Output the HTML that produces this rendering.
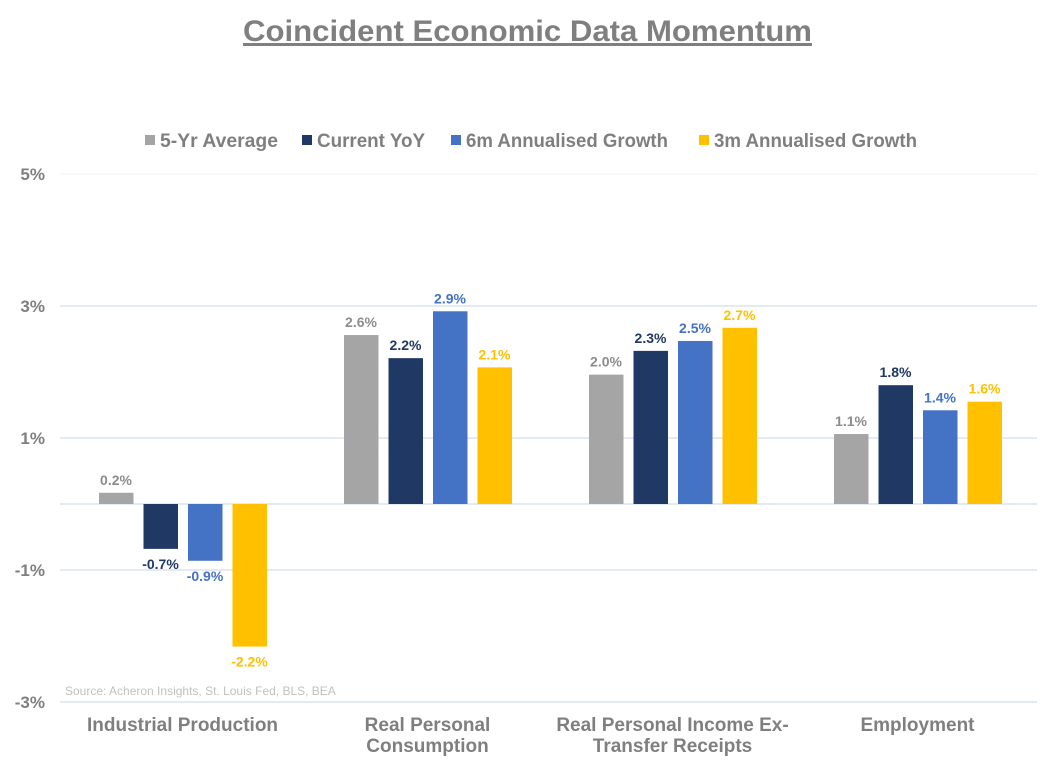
<!DOCTYPE html>
<html><head><meta charset="utf-8"><style>
body{margin:0;background:#fff;}
svg text{font-family:"Liberation Sans",Arial,sans-serif;}
</style></head><body>
<svg id="chart" width="1057" height="769" xmlns="http://www.w3.org/2000/svg">
<text x="243" y="41" textLength="569" lengthAdjust="spacingAndGlyphs" font-size="30" font-weight="bold" fill="#7f7f7f" text-decoration="underline">Coincident Economic Data Momentum</text>
<g id="grid"></g><g id="bars"></g><g id="legend"></g>
<text x="65" y="695" font-size="12" fill="#c0c0c0">Source: Acheron Insights, St. Louis Fed, BLS, BEA</text>
</svg>
<script>
const categories=[["Industrial Production"],["Real Personal","Consumption"],["Real Personal Income Ex-","Transfer Receipts"],["Employment"]];
const seriesNames=["5-Yr Average","Current YoY","6m Annualised Growth","3m Annualised Growth"];
const avg5=[0.17,2.56,1.96,1.06];
const yoy=[-0.68,2.21,2.32,1.8];
const g6m=[-0.86,2.92,2.47,1.42];
const g3m=[-2.16,2.07,2.67,1.55];
const yTicks=[5,3,1,-1,-3];
const colors=["#a5a5a5","#203864","#4472c4","#ffc000"];
const labelColors=["#8c8c8c","#203864","#4472c4","#ffc000"];
const series=[avg5,yoy,g6m,g3m];
const NS="http://www.w3.org/2000/svg";
const y=v=>504-v*66;
const groupX=i=>182.5+i*245;
function mk(t,a,p){const e=document.createElementNS(NS,t);for(const k in a)e.setAttribute(k,a[k]);p.appendChild(e);return e;}
const grid=document.getElementById('grid'),bars=document.getElementById('bars'),leg=document.getElementById('legend');
[5,3,1,0,-1,-3].forEach(v=>{const l=mk('line',{x1:60,x2:1037,y1:y(v),y2:y(v),stroke:v==5?"#eef2f8":"#c9d5ea","stroke-width":1},grid);

});
yTicks.forEach(v=>{const t=mk('text',{x:45,y:y(v)+6,"text-anchor":"end","font-size":17,"font-weight":"bold",fill:"#7f7f7f"},grid);t.textContent=v+"%";

});
categories.forEach((c,i)=>{c.forEach((ln,j)=>{const t=mk('text',{x:groupX(i),y:731+j*21,"text-anchor":"middle","font-size":19,"font-weight":"bold",fill:"#7f7f7f"},grid);t.textContent=ln;

});
series.forEach((s,k)=>{const v=s[i];const x=groupX(i)-83.5+k*44.5;const top=Math.min(y(v),y(0));const h=Math.abs(y(v)-y(0));
const r=mk('rect',{x:x,y:top,width:34.5,height:h,fill:colors[k]},bars);


const t=mk('text',{x:x+17,y:v>=0?y(v)-8:y(v)+20,"text-anchor":"middle","font-size":14,"font-weight":"bold",fill:labelColors[k]},bars);t.textContent=v.toFixed(1)+"%";

});});
seriesNames.forEach((n,k)=>{const g=mk('g',{},leg);


const sx=[145,302,451,699][k];
const tw=[118,108,202,203][k];
mk('rect',{x:sx,y:135,width:10,height:10,fill:colors[k]},g);
const t=mk('text',{x:sx+15,y:147,"font-size":19,"font-weight":"bold",fill:"#7f7f7f",textLength:tw,lengthAdjust:"spacingAndGlyphs"},g);t.textContent=n;});
</script>
</body></html>
